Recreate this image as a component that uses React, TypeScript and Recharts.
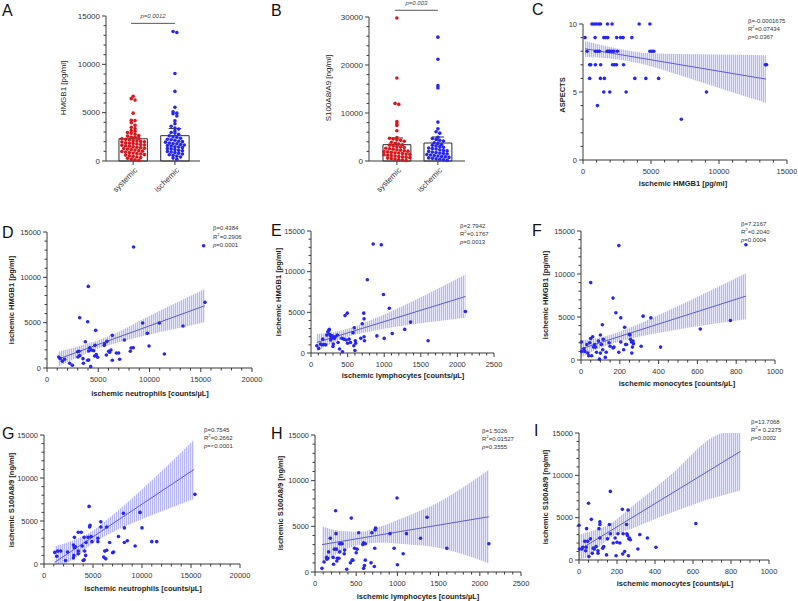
import React from 'react'
import { ComposedChart, Scatter, Line, Area, XAxis, YAxis, ReferenceLine, ReferenceArea } from 'recharts'

const FONT = '"Liberation Sans", Arial, sans-serif'
const RED = '#d8161c'
const BLUE = '#2626f2'
const FIT = '#5a5ae4'
const AXIS = '#3a3a3a'

// ---- panels A and B: dot plots with mean bars ----
const groupNames = ['systemic', 'ischemic']

const systemicHmgb1 = [6700, 6450, 6300, 4950, 4200, 4180, 3950, 3700, 3480, 3350, 3150, 3080, 2950, 2870, 2760, 2640, 2580, 2470, 2420, 2330, 2290, 2240, 2180, 2120, 2090, 2030, 1980, 1960, 1890, 1840, 1800, 1770, 1710, 1660, 1620, 1580, 1520, 1470, 1430, 1380, 1320, 1290, 1230, 1180, 1130, 1070, 1020, 980, 930, 870, 820, 760, 720, 660, 610, 540, 480, 420, 350, 280, 190, 130, 80]
const ischemicHmgb1 = [13400, 13300, 9050, 7200, 5550, 5100, 4950, 4900, 4650, 4150, 3850, 3600, 3400, 3300, 3100, 2950, 2900, 2750, 2600, 2500, 2450, 2350, 2250, 2200, 2150, 2050, 2000, 1950, 1850, 1800, 1780, 1700, 1650, 1600, 1550, 1480, 1450, 1380, 1300, 1250, 1180, 1100, 1050, 980, 930, 870, 800, 720, 650, 580, 500, 420, 300, 180]
const hmgb1Mean = [2300, 2620]
const hmgb1ErrTop = [2480, 3350]

const systemicS100 = [29800, 17300, 12000, 11800, 8200, 7700, 7400, 6300, 4900, 4750, 4600, 4500, 4300, 4100, 3900, 3700, 3550, 3400, 3300, 3150, 3000, 2900, 2800, 2650, 2550, 2450, 2350, 2250, 2150, 2050, 1950, 1900, 1800, 1700, 1650, 1550, 1450, 1400, 1300, 1200, 1150, 1050, 950, 850, 800, 700, 600, 500, 400, 300, 200, 120]
const ischemicS100 = [25800, 21200, 15700, 15200, 8100, 6700, 6100, 5800, 4950, 4700, 4500, 4300, 4150, 3800, 3650, 3450, 3300, 3150, 3000, 2850, 2700, 2600, 2500, 2350, 2200, 2100, 2000, 1850, 1750, 1650, 1550, 1450, 1350, 1250, 1150, 1050, 950, 850, 750, 650, 550, 450, 350, 250, 150]
const s100Mean = [3400, 3750]
const s100ErrTop = [4790, 5000]

// ---- panels C-I: [x, y] points, fitted line ends, confidence band [x, low, high] ----
const cPoints: [number, number][] = [
  [660, 10], [810, 10], [980, 10], [1160, 10], [1280, 10], [1800, 10], [2140, 10], [4130, 10], [4920, 10],
  [150, 9], [890, 9], [1530, 9], [1670, 9], [1820, 9], [2480, 9], [2760, 9], [2950, 9], [3590, 9],
  [300, 8], [910, 8], [1060, 8], [1200, 8], [1770, 8], [1890, 8], [1990, 8], [2120, 8], [2260, 8], [2530, 8], [4920, 8], [5070, 8], [5210, 8],
  [490, 7], [570, 7], [910, 7], [1300, 7], [2170, 7], [2310, 7], [2460, 7], [2980, 7], [13410, 7], [13500, 7],
  [490, 6], [1280, 6], [1570, 6], [3810, 6], [4620, 6], [5560, 6],
  [1530, 5], [1970, 5], [3170, 5], [9080, 5],
  [1060, 4], [7230, 3],
]
const cFit: [number, number][] = [[150, 8.18], [13450, 5.95]]
const cBand: [number, number, number][] = [[150, 7.6, 8.75], [2500, 7.4, 8.2], [5000, 6.9, 7.85], [7500, 6.1, 7.8], [10000, 5.3, 7.75], [13450, 4.2, 7.7]]

const dPoints: [number, number][] = [
  [1140, 1210], [1300, 1030], [1500, 740], [1720, 960], [2210, 520], [2470, 300], [2990, 1800], [3020, 1210], [3120, 1840], [3190, 1360],
  [3190, 5550], [3510, 1030], [3550, 520], [3740, 2900], [3970, 5100], [3970, 850], [4070, 1880], [4070, 880], [4030, 9000], [4160, 2240],
  [4260, 150], [4330, 1990], [4550, 1910], [4680, 2500], [4650, 1320], [4750, 4150], [4810, 1470], [4940, 1180], [5590, 2500], [5630, 2680],
  [5790, 1430], [5850, 2940], [6020, 1840], [6110, 1730], [6240, 1990], [6370, 850], [6370, 3600], [6760, 1650], [6990, 1650], [7090, 960],
  [7550, 3090], [8130, 1840], [8200, 2210], [8420, 2240], [8450, 13340], [9330, 4960], [9790, 3820], [9950, 2430], [10960, 4960], [11450, 1540],
  [13270, 4630], [15280, 13490], [15410, 7240],
]
const dFit: [number, number][] = [[1100, 990], [15400, 6870]]
const dBand: [number, number, number][] = [[1100, 190, 1790], [3000, 1170, 2370], [5000, 2150, 3050], [7000, 2800, 4000], [9500, 3550, 5450], [12000, 4180, 6860], [15400, 5050, 8700]]

const ePoints: [number, number][] = [
  [80, 900], [105, 550], [130, 1100], [150, 1000], [160, 1700], [175, 1050], [200, 1000], [215, 2200], [230, 2600], [245, 2800],
  [250, 2900], [255, 2300], [265, 2100], [270, 1600], [280, 1800], [290, 2100], [300, 800], [305, 1100], [320, 1800], [330, 2000],
  [360, 2200], [370, 1300], [390, 500], [420, 1800], [430, 150], [450, 1700], [465, 4600], [480, 1600], [495, 4900], [500, 1200],
  [520, 1700], [540, 1300], [575, 2500], [585, 900], [590, 3100], [600, 300], [605, 1500], [610, 1200], [680, 1800], [700, 3600],
  [720, 4900], [725, 4200], [725, 2000], [730, 1500], [770, 9000], [850, 13400], [900, 2100], [960, 13300], [990, 7200], [1000, 1800],
  [1070, 5500], [1110, 2400], [1280, 2900], [1360, 3800], [1600, 1500], [2110, 5100],
]
const eFit: [number, number][] = [[80, 1300], [2110, 6950]]
const eBand: [number, number, number][] = [[80, 250, 2350], [300, 1260, 2560], [550, 2130, 3090], [800, 2600, 4000], [1100, 3130, 5140], [1500, 3650, 6850], [2110, 4330, 9640]]

const fPoints: [number, number][] = [
  [2, 2100], [3, 1000], [15, 1300], [20, 1000], [30, 1800], [35, 800], [40, 500], [45, 2000], [50, 9000], [50, 2500],
  [55, 500], [60, 2700], [65, 1500], [70, 1800], [75, 1500], [80, 900], [90, 2200], [95, 100], [100, 800], [100, 2900],
  [105, 1800], [110, 4100], [112, 1200], [115, 2400], [125, 300], [130, 900], [145, 2000], [150, 1600], [165, 1400], [165, 7200],
  [170, 1500], [180, 5500], [195, 13300], [195, 900], [205, 4900], [205, 2100], [220, 1200], [225, 3800], [230, 1800], [235, 1800],
  [250, 3000], [252, 2900], [255, 2400], [260, 2100], [262, 800], [265, 1500], [268, 2200], [270, 1900], [310, 1600], [320, 5100],
  [360, 4900], [410, 1500], [615, 3600], [770, 4600], [850, 13400],
]
const fFit: [number, number][] = [[0, 1300], [850, 7430]]
const fBand: [number, number, number][] = [[0, 300, 2300], [80, 1230, 2530], [160, 1900, 3000], [300, 2710, 4210], [450, 3350, 5750], [650, 4090, 7890], [850, 4750, 10100]]

const gPoints: [number, number][] = [
  [1100, 1350], [1300, 900], [1400, 1500], [1700, 1500], [2200, 400], [2400, 1400], [3000, 2200], [3000, 700], [3050, 1000], [3100, 3100],
  [3100, 1900], [3200, 2000], [3500, 3700], [3500, 1500], [3500, 1200], [3800, 3700], [3900, 2100], [4000, 400], [4100, 500], [4100, 3100],
  [4150, 1500], [4250, 1000], [4300, 2500], [4500, 3100], [4600, 6700], [4650, 4300], [4700, 4500], [4800, 3200], [4900, 2600], [5500, 3000],
  [5500, 2600], [5800, 4900], [5800, 4300], [6100, 800], [6200, 1500], [6300, 600], [6400, 4300], [6400, 1600], [6700, 2500], [7000, 1300],
  [7100, 1400], [7600, 3200], [8100, 5900], [8200, 4200], [8200, 2500], [8500, 2700], [9300, 2100], [9800, 6000], [10000, 4200], [11000, 2600],
  [11500, 2600], [15400, 8100],
]
const gFit: [number, number][] = [[1100, 200], [15300, 10990]]
const gBand: [number, number, number][] = [[1100, 0, 2050], [2000, 0, 2350], [3000, 550, 2750], [5000, 2450, 3900], [7000, 3690, 5690], [10000, 5200, 8700], [15300, 7550, 14450]]

const hPoints: [number, number][] = [
  [85, 400], [110, 1100], [140, 1600], [145, 1400], [155, 1500], [165, 2200], [185, 3700], [220, 1600], [225, 850], [235, 2500],
  [250, 6700], [255, 4200], [260, 2500], [265, 1200], [270, 1500], [290, 1500], [300, 2200], [300, 3100], [310, 3100], [330, 3100],
  [355, 2000], [360, 2400], [385, 300], [430, 1000], [440, 5900], [450, 1300], [460, 1300], [480, 2600], [500, 2100], [510, 2500],
  [530, 4300], [580, 3000], [590, 400], [590, 3200], [600, 700], [610, 1300], [610, 3100], [680, 1000], [690, 4300], [720, 600],
  [725, 2600], [730, 4600], [735, 4800], [910, 4200], [960, 2600], [995, 8100], [1000, 800], [1070, 2000], [1110, 4200], [1280, 3700],
  [1360, 6000], [1600, 2600], [2110, 3100],
]
const hFit: [number, number][] = [[85, 3000], [2110, 6050]]
const hBand: [number, number, number][] = [[85, 1000, 5000], [300, 2120, 4520], [550, 3000, 4400], [800, 3200, 5000], [1100, 3050, 6050], [1500, 2650, 7650], [2110, 950, 11200]]

const iPoints: [number, number][] = [
  [0, 4100], [2, 1300], [15, 1300], [20, 1500], [30, 2200], [35, 1100], [38, 1500], [40, 3700], [45, 2200], [50, 6700],
  [52, 400], [60, 2500], [65, 4800], [70, 800], [75, 1400], [80, 1300], [90, 1600], [100, 1100], [100, 800], [105, 3700],
  [110, 4500], [110, 4200], [110, 2600], [125, 1400], [130, 1600], [145, 600], [150, 2500], [160, 4200], [165, 8100], [165, 3100],
  [180, 2000], [190, 2600], [195, 500], [200, 2100], [205, 3100], [215, 2000], [228, 6000], [230, 700], [232, 3100], [240, 1000],
  [250, 4200], [252, 3100], [255, 2900], [258, 5900], [260, 500], [262, 2500], [265, 2600], [270, 2400], [310, 1300], [320, 3000],
  [360, 2600], [405, 1500], [615, 4300],
]
const iFit: [number, number][] = [[0, 1180], [850, 12830]]
const iBand: [number, number, number][] = [[0, 0, 2950], [50, 450, 3300], [150, 2400, 4100], [300, 3900, 6700], [500, 5700, 10400], [720, 7400, 14700], [760, 7650, 15000], [850, 8200, 15000]]

// axis ranges: [max, minor step, labelled step]
const hmgbAxis: [number, number, number] = [15000, 1000, 5000]
const s100Axis: [number, number, number] = [30000, 2000, 10000]
const aspectsAxis: [number, number, number] = [10, 1, 5]
const neutroAxis: [number, number, number] = [20000, 1000, 5000]
const lymphoAxis: [number, number, number] = [2500, 100, 500]
const monoAxis: [number, number, number] = [1000, 50, 200]

const steps = (max: number, step: number) => {
  const out: number[] = []
  for (let v = 0; v <= max + 1e-9; v += step) out.push(Math.round(v * 1000) / 1000)
  return out
}

const isMajor = (v: any, majorStep: number) => {
  const n = Number(v)
  return Math.abs(n / majorStep - Math.round(n / majorStep)) < 1e-6
}

// simple beeswarm placement for the dot plots (x offsets in axis units)
function swarm(values: number[], center: number, bin: number) {
  const rows = new Map<number, number[]>()
  values.forEach((v) => {
    const k = Math.floor(v / bin)
    if (!rows.has(k)) rows.set(k, [])
    rows.get(k)!.push(v)
  })
  const out: { x: number; y: number }[] = []
  rows.forEach((list) => {
    const n = list.length
    const step = n > 1 ? Math.min(0.09, 0.84 / (n - 1)) : 0
    list.forEach((v, j) => out.push({ x: center + (j - (n - 1) / 2) * step, y: v }))
  })
  return out
}

const dot = (color: string) => (props: any) => <circle cx={props.cx} cy={props.cy} r={1.8} fill={color} />

function YTick(props: any) {
  const { x, y, payload, majorStep, fs } = props
  const major = isMajor(payload.value, majorStep)
  return (
    <g>
      <line x1={x} x2={x - (major ? 4 : 2.5)} y1={y} y2={y} stroke={AXIS} strokeWidth={1} />
      {major && (
        <text x={x - 6} y={y} textAnchor="end" dominantBaseline="central" fontSize={fs} fill="#333" fontFamily={FONT}>
          {payload.value}
        </text>
      )}
    </g>
  )
}

function XTick(props: any) {
  const { x, y, payload, majorStep, fs } = props
  const major = isMajor(payload.value, majorStep)
  return (
    <g>
      <line x1={x} x2={x} y1={y} y2={y + (major ? 4 : 2.5)} stroke={AXIS} strokeWidth={1} />
      {major && (
        <text x={x} y={y + 13.5} textAnchor="middle" fontSize={fs} fill="#333" fontFamily={FONT}>
          {payload.value}
        </text>
      )}
    </g>
  )
}

function GroupTick(props: any) {
  const { x, y, payload } = props
  const ax = x + 3
  const ay = y + 8
  return (
    <g>
      <line x1={x} x2={x} y1={y} y2={y + 4} stroke={AXIS} strokeWidth={1} />
      <text x={ax} y={ay} textAnchor="end" dominantBaseline="central" fontSize={8} fill="#333" fontFamily={FONT} transform={`rotate(-45, ${ax}, ${ay})`}>
        {groupNames[Math.round(Number(payload.value)) - 1]}
      </text>
    </g>
  )
}

type RegProps = {
  id: string
  box: [number, number, number, number]
  points: [number, number][]
  fit: [number, number][]
  band: [number, number, number][]
  xAxis: [number, number, number]
  yAxis: [number, number, number]
  right?: number
  ticksAsMarks?: boolean
}

function RegPanel({ id, box, points, fit, band, xAxis, yAxis, right = 14, ticksAsMarks = false }: RegProps) {
  const [l, t, r, b] = box
  const m = { top: 18, right, bottom: 26, left: 39 }
  const width = Math.round(r - l + m.left + 1 + m.right)
  const height = Math.round(b - t + m.top + m.bottom + 1)
  m.right = width - (r - l) - m.left - 1
  m.bottom = height - (b - t) - m.top - 1
  const xId = `${id}-x`
  const yId = `${id}-y`
  const pts = points.map(([x, y]) => ({ x, y }))
  const fitData = fit.map(([x, y]) => ({ x, y }))
  const bandData = band.map(([x, lo, hi]) => ({ x, band: [lo, hi] }))
  const xTicks = steps(xAxis[0], xAxis[1])
  const yTicks = steps(yAxis[0], yAxis[1])
  const tickMarks = xTicks.map((v) => ({ x: v, y: 0 }))
  const tickShape = (p: any) => {
    const v = p.node?.x ?? p.payload?.x
    return <XTick x={p.cx} y={p.cy} payload={{ value: v }} majorStep={xAxis[2]} fs={7.5} />
  }
  return (
    <div style={{ position: 'absolute', left: l - m.left - 1, top: t - m.top, width, height }}>
      <ComposedChart width={width} height={height} margin={m}>
        <defs>
          <pattern id={`hatch-${id}`} width="2" height="4" patternUnits="userSpaceOnUse">
            <rect x="0" y="0" width="1" height="4" fill="#b6b6f2" />
            <rect x="1" y="0" width="1" height="4" fill="#e8e8fc" />
          </pattern>
        </defs>
        <XAxis
          xAxisId={xId}
          type="number"
          dataKey="x"
          domain={[0, xAxis[0]]}
          ticks={xTicks}
          interval={0}
          tick={ticksAsMarks ? false : <XTick majorStep={xAxis[2]} fs={7.5} />}
          tickLine={false}
          tickSize={0}
          tickMargin={0}
          axisLine={{ stroke: AXIS }}
          height={1}
        />
        <YAxis yAxisId={yId} type="number" dataKey="y" domain={[0, yAxis[0]]} ticks={yTicks} interval={0} tick={<YTick majorStep={yAxis[2]} fs={7.5} />} tickLine={false} tickSize={0} tickMargin={0} axisLine={{ stroke: AXIS }} width={1} />
        <Area xAxisId={xId} yAxisId={yId} data={bandData} dataKey="band" type="monotone" fill={`url(#hatch-${id})`} fillOpacity={1} stroke="none" isAnimationActive={false} />
        <Line xAxisId={xId} yAxisId={yId} data={fitData} dataKey="y" type="linear" stroke={FIT} strokeWidth={1} dot={false} activeDot={false} isAnimationActive={false} />
        <Scatter xAxisId={xId} yAxisId={yId} data={pts} shape={dot(BLUE)} isAnimationActive={false} />
        {ticksAsMarks && <Scatter xAxisId={xId} yAxisId={yId} data={tickMarks} shape={tickShape} isAnimationActive={false} />}
      </ComposedChart>
    </div>
  )
}

type DotProps = {
  id: string
  box: [number, number, number, number]
  xDomain: [number, number]
  groups: number[][]
  means: number[]
  errTop: number[]
  yAxis: [number, number, number]
  bin: number
  pText: string
  pY: number
}

function DotPanel({ id, box, xDomain, groups, means, errTop, yAxis, bin, pText, pY }: DotProps) {
  const [l, t, r, b] = box
  const m = { top: 18, right: 14, bottom: 44, left: 39 }
  const width = r - l + m.left + 1 + m.right
  const height = b - t + m.top + m.bottom + 1
  const xId = `${id}-x`
  const yId = `${id}-y`
  const red = swarm(groups[0], 1, bin)
  const blue = swarm(groups[1], 2, bin)
  const halfBar = 0.34
  const halfCap = 0.15
  return (
    <div style={{ position: 'absolute', left: l - m.left - 1, top: t - m.top, width, height }}>
      <ComposedChart width={width} height={height} margin={m}>
        <XAxis xAxisId={xId} type="number" dataKey="x" domain={xDomain} ticks={[1, 2]} interval={0} tick={<GroupTick />} tickLine={false} tickSize={0} tickMargin={0} axisLine={{ stroke: AXIS }} height={1} allowDataOverflow />
        <YAxis yAxisId={yId} type="number" dataKey="y" domain={[0, yAxis[0]]} ticks={steps(yAxis[0], yAxis[1])} interval={0} tick={<YTick majorStep={yAxis[2]} fs={8} />} tickLine={false} tickSize={0} tickMargin={0} axisLine={{ stroke: AXIS }} width={1} />
        {means.map((v, i) => (
          <ReferenceArea key={`bar${i}`} xAxisId={xId} yAxisId={yId} x1={i + 1 - halfBar} x2={i + 1 + halfBar} y1={0} y2={v} fill="none" fillOpacity={0} stroke="#2c2c2c" strokeWidth={1} ifOverflow="visible" />
        ))}
        <Scatter xAxisId={xId} yAxisId={yId} data={red} shape={dot(RED)} isAnimationActive={false} />
        <Scatter xAxisId={xId} yAxisId={yId} data={blue} shape={dot(BLUE)} isAnimationActive={false} />
        {means.map((v, i) => (
          <ReferenceLine key={`err${i}`} xAxisId={xId} yAxisId={yId} segment={[{ x: i + 1, y: v }, { x: i + 1, y: errTop[i] }]} stroke="#2c2c2c" strokeWidth={1} ifOverflow="visible" />
        ))}
        {means.map((v, i) => (
          <ReferenceLine key={`cap${i}`} xAxisId={xId} yAxisId={yId} segment={[{ x: i + 1 - halfCap, y: errTop[i] }, { x: i + 1 + halfCap, y: errTop[i] }]} stroke="#2c2c2c" strokeWidth={1} ifOverflow="visible" />
        ))}
        <ReferenceLine
          xAxisId={xId}
          yAxisId={yId}
          segment={[{ x: 0.95, y: pY }, { x: 2.0, y: pY }]}
          stroke="#555"
          strokeWidth={1}
          ifOverflow="visible"
          label={{ value: pText, position: 'top', fontSize: 6, fontStyle: 'italic', fill: '#444', fontFamily: FONT }}
        />
      </ComposedChart>
    </div>
  )
}

function Stats({ left, top, beta, r2, p, lh = 7.8 }: { left: number; top: number; beta: string; r2: string; p: string; lh?: number }) {
  return (
    <div style={{ position: 'absolute', left, top, fontSize: 6, lineHeight: `${lh}px`, fontFamily: FONT, color: '#333', whiteSpace: 'nowrap' }}>
      <div>β={beta}</div>
      <div>
        R<sup style={{ fontSize: 4.2, lineHeight: 0 }}>2</sup>={r2}
      </div>
      <div>
        <i>p</i>={p}
      </div>
    </div>
  )
}

const text = (style: React.CSSProperties, s: string) => (
  <div style={{ position: 'absolute', fontFamily: FONT, color: '#222', whiteSpace: 'nowrap', ...style }}>{s}</div>
)

const yTitle = (cx: number, cy: number, s: string, bold = true) =>
  text({ left: cx, top: cy, fontSize: bold ? 7.5 : 8, fontWeight: bold ? 'bold' : 'normal', transform: 'translate(-50%, -50%) rotate(-90deg)' }, s)

const xTitle = (cx: number, cy: number, s: string) =>
  text({ left: cx, top: cy, fontSize: 7.5, fontWeight: 'bold', transform: 'translate(-50%, -50%)' }, s)

const letter = (x: number, y: number, s: string) => text({ left: x, top: y, fontSize: 16, lineHeight: '16px', color: '#111' }, s)

export default function App() {
  return (
    <div style={{ position: 'absolute', left: 0, top: 0, width: 798, height: 601, background: '#fff', overflow: 'hidden' }}>
      <DotPanel id="a" box={[106, 15.7, 200, 160.7]} xDomain={[0.35, 2.6]} groups={[systemicHmgb1, ischemicHmgb1]} means={hmgb1Mean} errTop={hmgb1ErrTop} yAxis={hmgbAxis} bin={330} pText="p=0.0012" pY={14240} />
      <DotPanel id="b" box={[369, 16.7, 465, 160.7]} xDomain={[0.32, 2.66]} groups={[systemicS100, ischemicS100]} means={s100Mean} errTop={s100ErrTop} yAxis={s100Axis} bin={680} pText="p=0.003" pY={31400} />
      <RegPanel id="c" box={[583, 24, 787, 160]} right={10} ticksAsMarks points={cPoints} fit={cFit} band={cBand} xAxis={hmgbAxis} yAxis={aspectsAxis} />
      <RegPanel id="d" box={[47, 232, 252, 368]} points={dPoints} fit={dFit} band={dBand} xAxis={neutroAxis} yAxis={hmgbAxis} />
      <RegPanel id="e" box={[311, 231, 494, 353]} points={ePoints} fit={eFit} band={eBand} xAxis={lymphoAxis} yAxis={hmgbAxis} />
      <RegPanel id="f" box={[581, 231, 775, 360]} points={fPoints} fit={fFit} band={fBand} xAxis={monoAxis} yAxis={hmgbAxis} />
      <RegPanel id="g" box={[44, 435, 240, 564]} points={gPoints} fit={gFit} band={gBand} xAxis={neutroAxis} yAxis={hmgbAxis} />
      <RegPanel id="h" box={[315, 435, 521, 572]} points={hPoints} fit={hFit} band={hBand} xAxis={lymphoAxis} yAxis={hmgbAxis} />
      <RegPanel id="i" box={[579, 433, 769, 560]} points={iPoints} fit={iFit} band={iBand} xAxis={monoAxis} yAxis={hmgbAxis} />

      {yTitle(63, 88, 'HMGB1 [pg/ml]', false)}
      {yTitle(328, 88, 'S100A8/A9 [ng/ml]', false)}
      {yTitle(562, 95, 'ASPECTS')}
      {xTitle(683, 183, 'ischemic HMGB1 [pg/ml]')}
      {yTitle(11, 300, 'ischemic HMGB1 [pg/ml]')}
      {xTitle(150, 393, 'ischemic neutrophils [counts/µL]')}
      {yTitle(278, 292, 'ischemic HMGB1 [pg/ml]')}
      {xTitle(403, 375, 'ischemic lymphocytes [counts/µL]')}
      {yTitle(545, 295, 'ischemic HMGB1 [pg/ml]')}
      {xTitle(677, 383, 'ischemic monocytes [counts/µL]')}
      {yTitle(11, 500, 'ischemic S100A8/9 [ng/ml]')}
      {xTitle(143, 588, 'ischemic neutrophils [counts/µL]')}
      {yTitle(280, 503, 'ischemic S100A8/9  [ng/ml]')}
      {xTitle(418, 596, 'ischemic lymphocytes [counts/µL]')}
      {yTitle(545, 497, 'ischemic S100A8/9  [ng/ml]')}
      {xTitle(675, 583, 'ischemic monocytes [counts/µL]')}

      <Stats left={748} top={18} beta="-0.0001675" r2="0.07434" p="0.0367" />
      <Stats left={213} top={224} beta="0.4384" r2="0.2906" p="0.0001" lh={8.6} />
      <Stats left={460} top={223} beta="2.7942" r2="0.1767" p="0.0013" />
      <Stats left={741} top={221} beta="7.2167" r2="0.2040" p="0.0004" />
      <Stats left={204} top={427} beta="0.7545" r2="0.2662" p="<0.0001" />
      <Stats left={482} top={428} beta="1.5026" r2="0.01527" p="0.3555" />
      <Stats left={751} top={419} beta="13.7068" r2=" 0.2275" p="0.0002" />

      {letter(2, 3, 'A')}
      {letter(271, 3, 'B')}
      {letter(532, 2, 'C')}
      {letter(2, 225, 'D')}
      {letter(271, 223, 'E')}
      {letter(532, 223, 'F')}
      {letter(2, 426, 'G')}
      {letter(271, 426, 'H')}
      {letter(534, 423, 'I')}
    </div>
  )
}
